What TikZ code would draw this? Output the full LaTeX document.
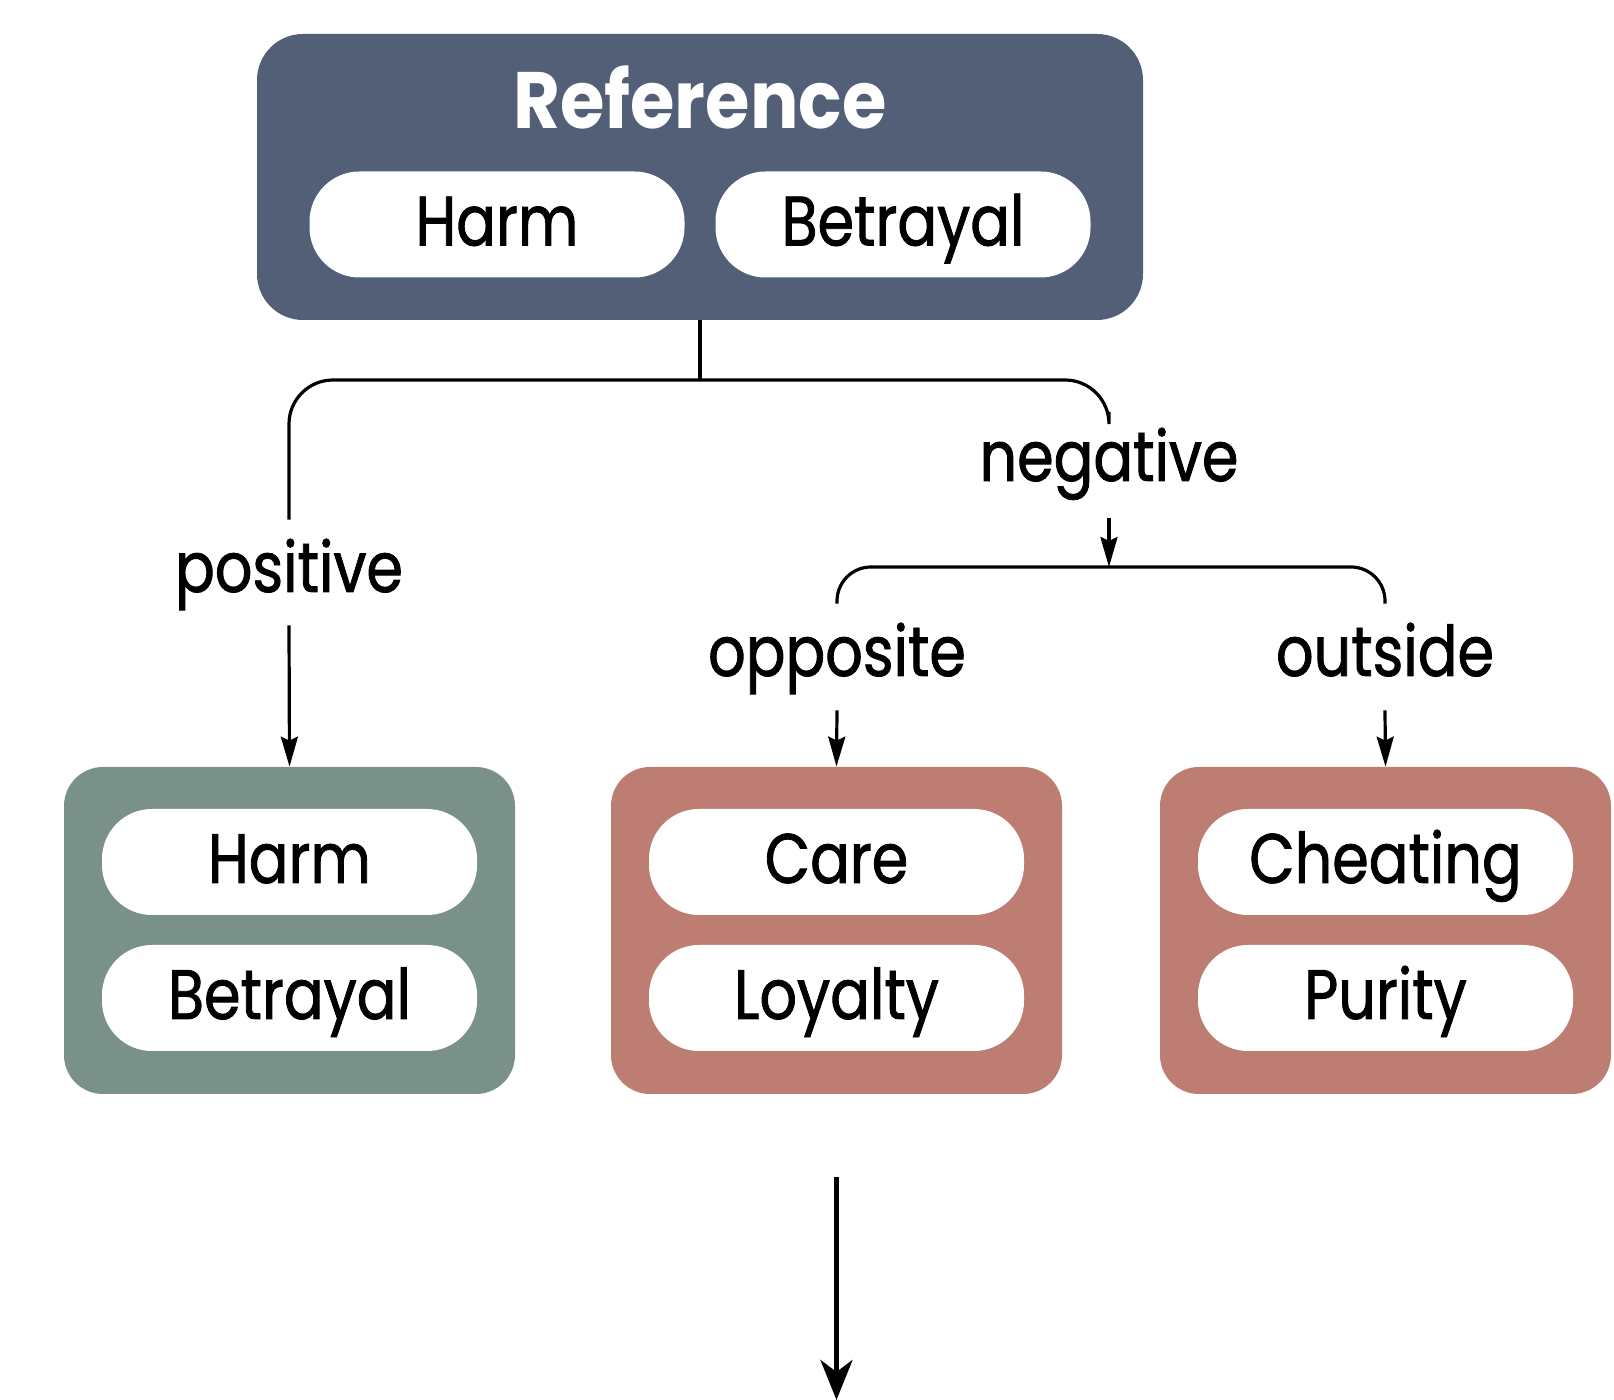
\documentclass[tikz,border=0pt]{standalone}
\usepackage{fontspec}
\setmainfont[FakeStretch=0.84,FakeBold=1.2]{Poppins}
\newfontfamily\titlefont[FakeStretch=0.9]{Poppins}
\usetikzlibrary{arrows.meta,positioning}

\definecolor{refblue}{HTML}{535F77}
\definecolor{posgreen}{HTML}{7A9189}
\definecolor{negred}{HTML}{BE7D72}

\tikzset{
  group/.style={rounded corners=19.5pt,minimum width=225.5pt,minimum height=163.5pt,inner sep=0pt},
  pill/.style={fill=white,rounded corners=25pt,minimum width=187.5pt,minimum height=53pt,inner sep=0pt,
    text height=21pt,text depth=0pt,font=\fontsize{35}{40}\selectfont},
  lbl/.style={font=\fontsize{35}{40}\selectfont,inner sep=0pt,text height=26pt,text depth=9pt,anchor=base},
  link/.style={line width=1.6pt},
}

\begin{document}
\begin{tikzpicture}[x=0.5pt,y=-0.5pt,>={Stealth[length=15pt,width=8.5pt,inset=2pt]}]
  \useasboundingbox (0,0) rectangle (1614,1400);
  % reference box
  \node[group,fill=refblue,minimum width=443pt,minimum height=143pt,rounded corners=23pt] (ref) at (700,177) {};
  \node[font=\titlefont\fontsize{40}{44}\selectfont\bfseries,text=white,inner sep=0pt,anchor=base] (reftitle) at (700,129) {Reference};
  \node[pill] (refharm) at (497,224.5) {Harm};
  \node[pill] (refbetr) at (903,224.5) {Betrayal};
  % branch labels
  \node[lbl] (pos) at (289,592) {positive};
  \node[lbl] (neg) at (1109,481) {negative};
  \node[lbl] (opp) at (837,676) {opposite};
  \node[lbl] (out) at (1385,676) {outside};
  % result groups
  \node[group,fill=posgreen] (gpos) at (289.5,930.5) {};
  \node[pill] (posharm) at (289.5,862) {Harm};
  \node[pill] (posbetr) at (289.5,998) {Betrayal};
  \node[group,fill=negred] (gopp) at (836.5,930.5) {};
  \node[pill] (oppcare) at (836.5,862) {Care};
  \node[pill] (opployal) at (836.5,998) {Loyalty};
  \node[group,fill=negred] (gout) at (1385.5,930.5) {};
  \node[pill] (outcheat) at (1385.5,862) {Cheating};
  \node[pill] (outpure) at (1385.5,998) {Purity};
  % connectors
  \coordinate (split) at (700,380);
  \coordinate (negend) at (1109,412);
  \coordinate (sub) at (1109,567);
  \coordinate (exit) at (834,1400);
  \draw[link] (ref.south) -- (split);
  \draw[link,rounded corners=22pt] ([yshift=10pt]pos.north) |- (split) -| (negend);
  \draw[link,->] ([yshift=-7.5pt]pos.south) -- (gpos.north);
  \draw[link,->] ([yshift=-9.5pt]neg.south) -- (sub);
  \draw[link,rounded corners=17pt] ([yshift=10pt]opp.north) |- (sub) -| ([yshift=10pt]out.north);
  \draw[link,->] ([yshift=-8pt]opp.south) -- (gopp.north);
  \draw[link,->] ([yshift=-8pt]out.south) -- (gout.north);
  \draw[line width=2.5pt,-{Stealth[length=20pt,width=16pt,inset=6pt]}] ([yshift=-41.5pt]gopp.south) -- (gopp.south |- exit);
\end{tikzpicture}
\end{document}
